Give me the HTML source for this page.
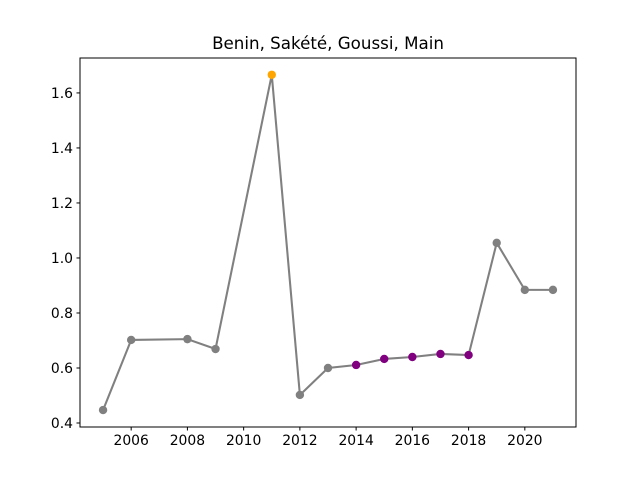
<!DOCTYPE html>
<html><head><meta charset="utf-8"><style>
html,body{margin:0;padding:0;background:#fff;}
svg{display:block;font-family:"DejaVu Sans","Liberation Sans",sans-serif;}
</style></head><body>
<svg id="chart" width="640" height="480">
<rect width="640" height="480" fill="#fff"/>
<text x="328" y="49" font-size="16.7" text-anchor="middle">Benin, Sakété, Goussi, Main</text>
<g id="axes"></g>
<g id="marks"></g>
<rect x="80" y="58" width="496" height="369" fill="none" stroke="#000" stroke-width="1"/>
</svg>
<script>
const years = [2005,2006,2008,2009,2011,2012,2013,2014,2015,2016,2017,2018,2019,2020,2021];
const values = [0.447,0.702,0.705,0.669,1.666,0.502,0.600,0.611,0.633,0.640,0.651,0.647,1.055,0.884,0.884];
const pointColors = ["gray","gray","gray","gray","orange","gray","gray","purple","purple","purple","purple","purple","gray","gray","gray"];
const xTicks = [2006,2008,2010,2012,2014,2016,2018,2020];
const yTicks = [0.4,0.6,0.8,1.0,1.2,1.4,1.6];

const L=80,R=576,T=58,B=427;
const xMin=2004.18,xMax=2021.82,yMin=0.3855,yMax=1.727;
const sx=v=>L+(v-xMin)/(xMax-xMin)*(R-L);
const sy=v=>B-(v-yMin)/(yMax-yMin)*(B-T);
const NS="http://www.w3.org/2000/svg";
const axes=document.getElementById('axes'), marks=document.getElementById('marks');
function mk(tag,attrs,parent){const e=document.createElementNS(NS,tag);for(const k in attrs)e.setAttribute(k,attrs[k]);parent.appendChild(e);return e;}

xTicks.forEach(t=>{
  const x=sx(t);
  const l=mk('line',{x1:x,x2:x,y1:B,y2:B+3.5,stroke:'#000'},axes);
  
  
  const tx=mk('text',{x:x,y:B+18,'font-size':'13.9','text-anchor':'middle'},axes);
  tx.textContent=t;
  
  
});
yTicks.forEach(t=>{
  const y=sy(t);
  const l=mk('line',{x1:L-3.5,x2:L,y1:y,y2:y,stroke:'#000'},axes);
  
  
  const tx=mk('text',{x:L-7,y:y+5,'font-size':'13.9','text-anchor':'end'},axes);
  tx.textContent=t.toFixed(1);
  
  
});

const pts=years.map((y,i)=>sx(y)+','+sy(values[i])).join(' ');
const line=mk('polyline',{points:pts,fill:'none',stroke:'gray','stroke-width':'2.08'},marks);


years.forEach((y,i)=>{
  const c=mk('circle',{cx:sx(y),cy:sy(values[i]),r:4.2,fill:pointColors[i]},marks);
  
  
});
</script>
</body></html>
